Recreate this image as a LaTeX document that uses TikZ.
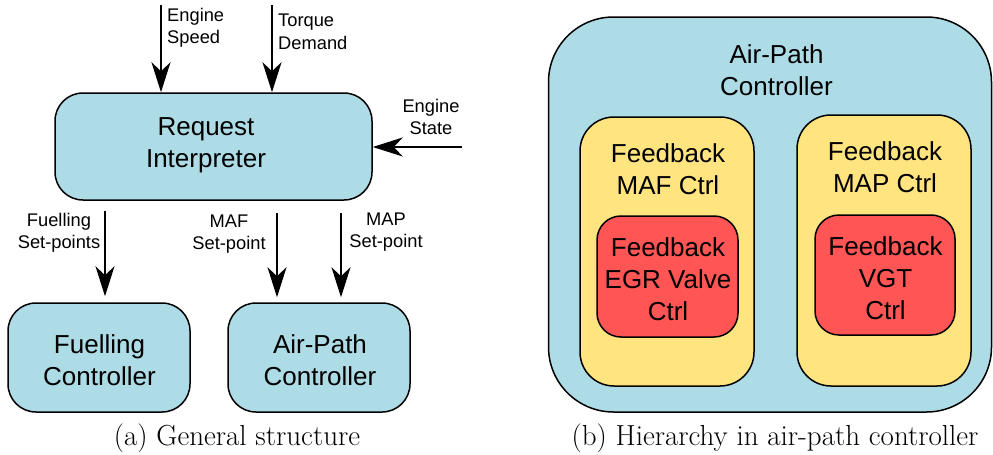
\documentclass[tikz,border=0pt]{standalone}
\usepackage{fontspec}
\setmainfont{Latin Modern Roman}
\newfontfamily\labelfont{Liberation Sans}
\usetikzlibrary{arrows.meta}
\definecolor{boxblue}{HTML}{ADDCE6}
\definecolor{boxyellow}{HTML}{FFE47F}
\definecolor{boxred}{HTML}{FF5555}
\tikzset{
  block/.style={draw=black, line width=1.5pt, rounded corners=28pt,
    fill=boxblue, inner sep=0pt},
  outerbox/.style={block, rounded corners=65pt},
  midbox/.style={block, fill=boxyellow, rounded corners=34pt},
  innerbox/.style={block, fill=boxred, rounded corners=24pt},
  boxtext/.style={align=center, inner sep=0pt,
    font=\labelfont\fontsize{26}{32}\selectfont},
  sig/.style={align=center, inner sep=0pt,
    font=\labelfont\fontsize{18.3}{22.5}\selectfont},
  flow/.style={line width=2pt,
    -{Stealth[length=30pt, width=19pt, inset=9pt]}},
  caption/.style={inner sep=0pt, font=\fontsize{29}{34}\selectfont}
}
\begin{document}
\begin{tikzpicture}[x=1pt, y=-1pt]
\useasboundingbox (0,0) rectangle (993,455);

% ---- (a) general structure ----
\node[block, minimum width=317pt, minimum height=107pt] (req) at (213.5,146.5) {};
\node[boxtext] (reqtxt) at (206,145.5) {Request\\Interpreter};

\node[block, minimum width=182pt, minimum height=109pt] (fuel) at (99,357.5) {};
\node[boxtext] (fueltxt) at (99.5,360) {Fuelling\\Controller};
\node[block, minimum width=182pt, minimum height=109pt] (air) at (319,357.5) {};
\node[boxtext] (airtxt) at (320,360) {Air-Path\\Controller};

% external inputs
\coordinate (speedin) at (161,5);
\coordinate (torquein) at (272,5);
\coordinate (statein) at (462,147);
\draw[flow] (speedin) -- (speedin |- req.north);
\draw[flow] (torquein) -- (torquein |- req.north);
\draw[flow] (statein) -- (statein -| req.east);

\node[sig, anchor=west, align=left] (speedlbl) at (167,28) {Engine\\Speed};
\node[sig, anchor=west, align=left] (torquelbl) at (278,32) {Torque\\Demand};
\node[sig] (statelbl) at (431,117) {Engine\\State};

% set-points to the controllers
\draw[flow, shorten <=10pt, shorten >=6pt] (req.south -| 105,0) -- (fuel.north -| 105,0);
\draw[flow, shorten <=12pt, shorten >=5pt] (req.south -| 277,0) -- (air.north -| 277,0);
\draw[flow, shorten <=12pt, shorten >=5pt] (req.south -| 341,0) -- (air.north -| 341,0);

\node[sig] (fuellbl) at (59,233) {Fuelling\\Set-points};
\node[sig] (maflbl) at (229,234) {MAF\\Set-point};
\node[sig] (maplbl) at (386,232) {MAP\\Set-point};

\node[caption] (capa) at (237,438) {(a) General structure};

% ---- (b) hierarchy in the air-path controller ----
\node[outerbox, minimum width=443pt, minimum height=395pt] (apc) at (770,214.5) {};
\node[boxtext] (apctxt) at (776.5,70.5) {Air-Path\\Controller};

\node[midbox, minimum width=174pt, minimum height=269pt] (maf) at (667,251.5) {};
\node[boxtext] (maftxt) at (668,169.5) {Feedback\\MAF Ctrl};
\node[innerbox, minimum width=141pt, minimum height=121pt] (egr) at (667.5,276.5) {};
\node[boxtext] (egrtxt) at (668,279.5) {Feedback\\EGR Valve\\Ctrl};

\node[midbox, minimum width=174pt, minimum height=271pt] (map) at (884,250.5) {};
\node[boxtext] (maptxt) at (885,167) {Feedback\\MAP Ctrl};
\node[innerbox, minimum width=140pt, minimum height=120pt] (vgt) at (885,275) {};
\node[boxtext] (vgttxt) at (885.5,278) {Feedback\\VGT\\Ctrl};

\node[caption] (capb) at (775,438) {(b) Hierarchy in air-path controller};
\end{tikzpicture}
\end{document}
